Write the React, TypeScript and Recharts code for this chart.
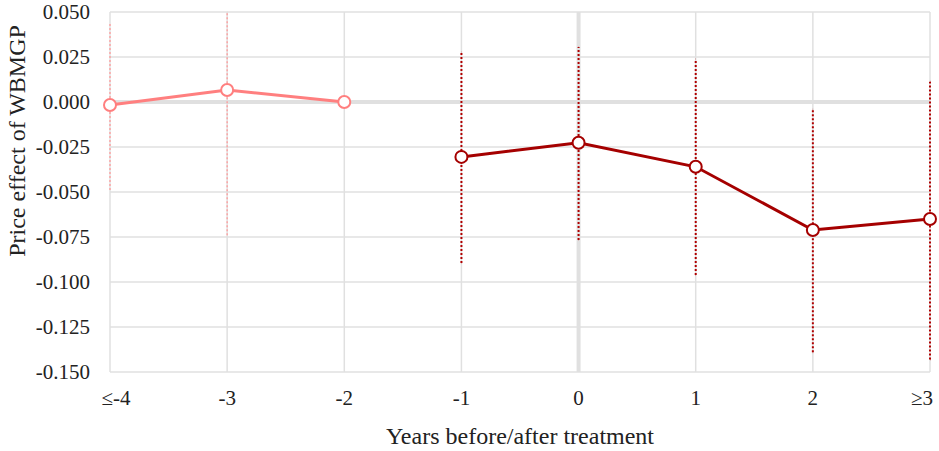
import React from 'react';
import {
  ComposedChart,
  Line,
  XAxis,
  YAxis,
  CartesianGrid,
  ReferenceLine,
  ErrorBar,
} from 'recharts';

const categories = ['≤-4', '-3', '-2', '-1', '0', '1', '2', '≥3'];
const preValues: (number | null)[] = [-0.0017, 0.0067, 0.0, null, null, null, null, null];
const postValues: (number | null)[] = [null, null, null, -0.0305, -0.0226, -0.036, -0.0711, -0.065];
const lowerCI: (number | null)[] = [-0.0489, -0.074, null, -0.0894, -0.0767, -0.0961, -0.139, -0.143];
const upperCI: (number | null)[] = [0.0439, 0.05, null, 0.0278, 0.0306, 0.0239, -0.0041, 0.0113];
const yTicks = [0.05, 0.025, 0, -0.025, -0.05, -0.075, -0.1, -0.125, -0.15];

const data = categories.map((c, i) => {
  const est = preValues[i] ?? postValues[i];
  const hasCI = lowerCI[i] != null && upperCI[i] != null && est != null;
  return {
    cat: c,
    pre: preValues[i],
    post: postValues[i],
    preEB: hasCI && preValues[i] != null ? preValues[i] : null,
    postEB: hasCI && postValues[i] != null ? postValues[i] : null,
    err: hasCI ? [(est as number) - (lowerCI[i] as number), (upperCI[i] as number) - (est as number)] : null,
  };
});

const FONT = '"Liberation Serif", "Times New Roman", serif';
const PRE = '#ff7f7f';
const POST = '#a50000';

const XTick = (props: any) => {
  const { x, y, payload, index } = props;
  const last = categories.length - 1;
  const dx = index === 0 ? 6 : index === last ? -8 : 0;
  return (
    <text
      x={x + dx}
      y={y}
      dy="0.71em"
      textAnchor="middle"
      fill="#222"
      fontSize={21}
      fontFamily={FONT}
    >
      {payload.value}
    </text>
  );
};

export default function App() {
  return (
    <div style={{ position: 'absolute', left: 0, top: 0, background: '#fff' }}>
      <ComposedChart
        width={939}
        height={451}
        data={data}
        margin={{ top: 12, right: 9, bottom: 0, left: 0 }}
      >
        <CartesianGrid stroke="#e0e0e0" strokeWidth={1.5} />
        <ReferenceLine y={0} stroke="#e0e0e0" strokeWidth={4} />
        <ReferenceLine x="0" stroke="#e0e0e0" strokeWidth={4} />
        <XAxis
          dataKey="cat"
          height={79}
          interval={0}
          axisLine={false}
          tickLine={false}
          tickSize={0}
          tickMargin={18}
          tick={<XTick />}
          label={{
            content: () => (
              <text x={520} y={444} textAnchor="middle" fill="#222" fontSize={24} fontFamily={FONT}>
                Years before/after treatment
              </text>
            ),
          }}
        />
        <YAxis
          width={110}
          domain={[-0.15, 0.05]}
          ticks={yTicks}
          interval={0}
          allowDataOverflow
          axisLine={false}
          tickLine={false}
          tickSize={0}
          tickMargin={20}
          tickFormatter={(v: number) => v.toFixed(3)}
          tick={{ fill: '#222', fontSize: 21, fontFamily: FONT }}
          label={{
            content: () => (
              <text
                x={25}
                y={141}
                transform="rotate(-90, 25, 141)"
                textAnchor="middle"
                fill="#222"
                fontSize={24}
                fontFamily={FONT}
              >
                Price effect of WBMGP
              </text>
            ),
          }}
        />
        <Line
          dataKey="preEB"
          stroke="none"
          dot={false}
          activeDot={false}
          isAnimationActive={false}
          legendType="none"
        >
          <ErrorBar dataKey="err" width={0} stroke="#ff9a9a" strokeWidth={1.3} strokeDasharray="2 2" isAnimationActive={false} />
        </Line>
        <Line
          dataKey="postEB"
          stroke="none"
          dot={false}
          activeDot={false}
          isAnimationActive={false}
          legendType="none"
        >
          <ErrorBar dataKey="err" width={0} stroke="#b00000" strokeWidth={2} strokeDasharray="2 2" isAnimationActive={false} />
        </Line>
        <Line
          dataKey="pre"
          stroke={PRE}
          strokeWidth={3}
          dot={{ r: 6, fill: '#fff', stroke: PRE, strokeWidth: 2 }}
          activeDot={false}
          isAnimationActive={false}
          connectNulls={false}
        />
        <Line
          dataKey="post"
          stroke={POST}
          strokeWidth={3}
          dot={{ r: 6, fill: '#fff', stroke: POST, strokeWidth: 2 }}
          activeDot={false}
          isAnimationActive={false}
          connectNulls={false}
        />
      </ComposedChart>
    </div>
  );
}
